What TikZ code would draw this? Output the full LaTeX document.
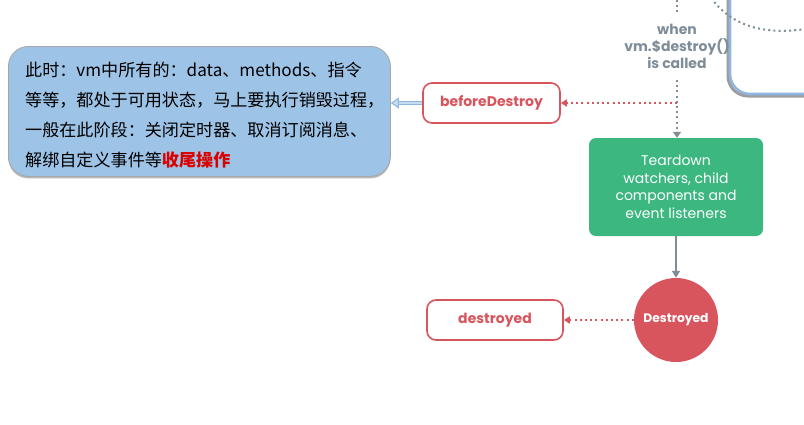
\documentclass[tikz,border=0pt]{standalone}
\usepackage{fontspec}
\setmainfont{Poppins}
\newfontfamily\cjk{Noto Sans CJK SC}
\newfontfamily\pop{Poppins}
\usetikzlibrary{arrows.meta,shadows,shapes.geometric}
\definecolor{vred}{HTML}{D9555E}
\definecolor{vgray}{HTML}{7F8D99}
\definecolor{vgreen}{HTML}{3BB77F}
\definecolor{cblue}{HTML}{9DC3E6}
\definecolor{bblue}{HTML}{8FB6DF}
\tikzset{
  hook/.style={draw=vred,line width=1.6pt,fill=white,rounded corners=9pt,minimum height=40pt,font=\pop\bfseries\fontsize{14}{16}\selectfont,text=vred},
  dotline/.style={line width=2pt,dash pattern=on 2pt off 3.2pt},
  reddot/.style={vred,dotline,-{Triangle[length=6pt,width=7pt]}},
  graydot/.style={vgray,dotline,-{Triangle[length=6pt,width=8pt]}},
  graysolid/.style={vgray,line width=1.6pt,-{Triangle[length=7pt,width=8pt]}},
}
\begin{document}
\begin{tikzpicture}[x=1pt,y=-1pt]
\useasboundingbox (0,0) rectangle (804,424);
\begin{scope}
\clip (0,0) rectangle (804,424);
% top-right box
\draw[black!55,line width=3pt,rounded corners=20pt,opacity=0.7] (728,-40) -- (728,96) -- (840,96);
\draw[bblue,line width=2.6pt,rounded corners=20pt] (730,-40) -- (730,94) -- (840,94);
\draw[vgray,dotline] (711,-2) .. controls (735,30) and (770,34) .. (806,29);
\end{scope}
% text "when ..."
\coordinate (top) at (677,0);
\node[font=\pop\bfseries\fontsize{14}{17}\selectfont,text=vgray,align=center] (when) at (677,46) {when\\vm.\$destroy()\\is called};
\draw[vgray,dotline] (top) -- (677,12);
\coordinate (junc) at (677,103);
% green box
\node[fill=vgreen,rounded corners=7pt,minimum width=174pt,minimum height=98pt,text=white,align=center,font=\pop\fontsize{14}{17.5}\selectfont] (tear) at (676,187) {Teardown\\watchers, child\\components and\\event listeners};
\draw[graydot] (677,80) -- (tear.north -| junc);
% beforeDestroy
\node[hook,minimum width=137pt] (bd) at (491.5,103) {beforeDestroy};
\draw[reddot] (junc) -- (bd.east);
% circle
\node[circle,fill=vred,minimum size=84pt,inner sep=0pt,text=white,font=\pop\bfseries\fontsize{12.3}{14}\selectfont] (dc) at (676,320) {Destroyed};
\draw[graysolid] (tear.south) -- (dc.north);
% destroyed
\node[hook,minimum width=136pt] (dd) at (495,320) {destroyed};
\draw[reddot] (dc.west) -- (dd.east);
% callout
\node[fill=cblue,draw=black!35,line width=0.8pt,rounded corners=20pt,minimum width=382pt,minimum height=130pt,
  drop shadow={shadow xshift=0pt,shadow yshift=-2pt,opacity=0.45,fill=black!60},anchor=north west,inner sep=0pt] (note) at (8,46) {};
\node[anchor=north west,align=left,font=\cjk\fontsize{17.1}{30}\selectfont,inner sep=0pt] (notetext) at (25,62)
 {此时：vm中所有的：data、methods、指令\\等等，都处于可用状态，马上要执行销毁过程，\\一般在此阶段：关闭定时器、取消订阅消息、\\解绑自定义事件等\textcolor{red!85!black}{\bfseries 收尾操作}};
\draw[bblue,line width=1pt,double=cblue!60!white,double distance=2.5pt,-{Triangle[length=8pt,width=11pt,open,fill=cblue!60!white]}] (bd.west) -- (note.east |- bd.west);
\end{tikzpicture}
\end{document}
